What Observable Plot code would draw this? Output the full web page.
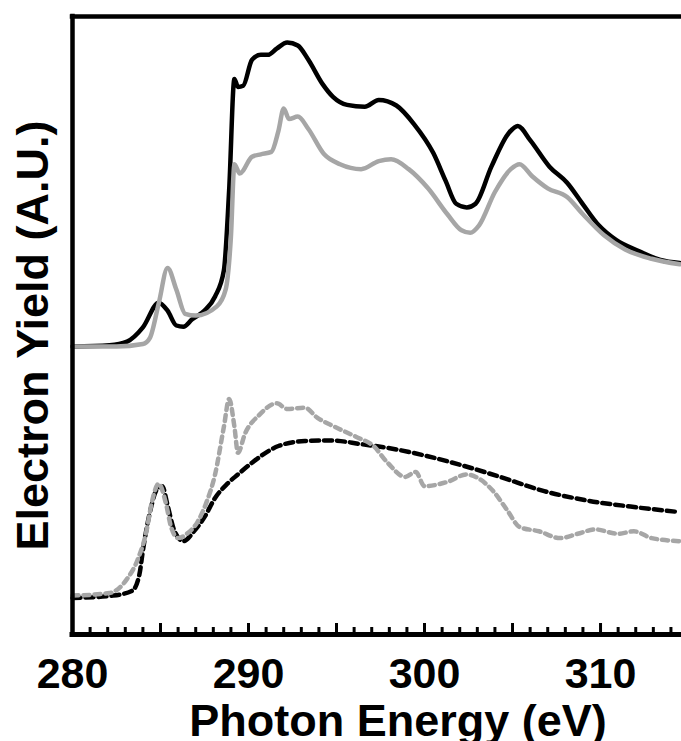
<!DOCTYPE html>
<html>
<head>
<meta charset="utf-8">
<script src="https://cdn.jsdelivr.net/npm/d3@7"></script>
<script src="https://cdn.jsdelivr.net/npm/@observablehq/plot@0.6"></script>
<style>
  html, body { margin: 0; padding: 0; background: #fff; overflow: hidden; }
</style>
</head>
<body>
<div id="chart"></div>
<script>
// Photon energy (eV) and electron yield (arbitrary units)
const blackSolidE = [280.0, 282.1, 283.1, 284.0, 284.9, 285.4, 285.9, 286.3, 286.8, 287.5, 288.1, 288.6, 288.9, 289.2, 289.4, 289.7, 290.2, 290.7, 291.1, 291.6, 292.2, 292.8, 293.4, 294.2, 294.8, 295.6, 296.6, 297.4, 298.4, 299.4, 300.5, 301.2, 301.8, 302.4, 302.9, 303.8, 304.8, 305.3, 306.0, 307.1, 308.1, 309.0, 309.9, 310.9, 312.2, 313.4, 314.5];
const blackSolidY = [46.6, 46.8, 47.4, 49.7, 53.7, 52.4, 50.0, 49.8, 51.0, 52.4, 54.7, 58.9, 71.9, 89.9, 88.6, 88.8, 93.0, 93.8, 93.8, 94.8, 95.8, 95.3, 93.0, 89.1, 87.0, 85.7, 85.4, 86.5, 85.6, 82.6, 77.9, 73.4, 69.7, 69.1, 69.7, 75.7, 81.2, 82.3, 80.0, 75.7, 73.1, 69.6, 66.2, 63.8, 62.0, 60.6, 60.1];

const greySolidE = [280.0, 282.5, 284.0, 284.4, 284.9, 285.4, 285.9, 286.4, 287.0, 288.2, 288.7, 289.0, 289.2, 289.5, 290.2, 290.7, 291.3, 291.7, 292.0, 292.3, 292.8, 293.4, 294.3, 295.2, 296.4, 297.4, 298.1, 299.1, 300.2, 301.3, 302.1, 302.6, 303.1, 304.0, 304.9, 305.4, 306.1, 307.0, 308.1, 309.0, 310.2, 311.4, 312.9, 314.5];
const greySolidY = [46.6, 46.6, 47.0, 48.0, 53.6, 59.3, 55.8, 51.9, 51.6, 53.1, 55.8, 64.3, 76.1, 74.6, 77.3, 77.7, 78.1, 81.5, 85.1, 83.4, 83.8, 81.8, 77.7, 76.1, 75.3, 76.6, 76.9, 75.3, 72.2, 68.0, 65.4, 65.0, 66.2, 71.6, 75.3, 76.1, 74.2, 72.2, 70.8, 68.0, 64.6, 62.3, 60.8, 59.9];

const blackDashE = [280.0, 282.3, 283.4, 283.8, 284.0, 284.4, 284.8, 285.1, 285.4, 285.8, 286.3, 286.9, 287.5, 288.1, 288.8, 289.4, 290.2, 291.7, 293.2, 294.7, 296.4, 298.1, 300.1, 302.1, 304.3, 306.8, 309.2, 311.7, 314.5];
const blackDashY = [5.9, 6.3, 7.1, 9.7, 13.6, 19.8, 23.5, 24.0, 20.9, 16.7, 15.1, 16.7, 19.0, 22.1, 24.4, 25.9, 27.8, 30.5, 31.3, 31.4, 30.8, 30.1, 28.9, 27.4, 25.5, 23.2, 21.7, 20.7, 19.8];

const greyDashE = [280.0, 282.1, 283.1, 283.7, 284.2, 284.5, 284.9, 285.3, 285.6, 286.0, 286.5, 287.1, 287.6, 288.1, 288.6, 288.9, 289.2, 289.4, 289.8, 290.6, 291.6, 292.2, 293.2, 293.9, 294.9, 296.1, 297.1, 297.9, 298.9, 299.5, 300.0, 301.3, 302.4, 303.1, 303.9, 304.7, 305.4, 306.5, 307.7, 308.7, 309.7, 311.0, 311.9, 312.9, 314.5];
const greyDashY = [6.3, 6.7, 9.0, 12.1, 16.7, 21.3, 24.4, 21.3, 17.4, 15.6, 16.3, 18.2, 21.3, 25.9, 33.6, 38.1, 33.6, 29.4, 32.5, 35.5, 37.4, 36.5, 36.7, 35.1, 33.6, 32.0, 30.5, 27.8, 25.5, 26.3, 24.0, 24.7, 25.9, 25.2, 23.2, 20.1, 17.4, 16.7, 15.6, 16.3, 17.0, 16.3, 16.7, 15.6, 15.1];

const xDomain = [280, 314.6];
const yDomain = [0, 100];
const labelTicks = [280, 290, 300, 310];
const majorTicks = [285, 290, 295, 300, 305, 310];
const minorTicks = [281, 282, 283, 284, 286, 287, 288, 289, 291, 292, 293, 294, 296, 297, 298, 299, 301, 302, 303, 304, 306, 307, 308, 309, 311, 312, 313, 314];
const xTitle = "Photon Energy (eV)";
const yTitle = "Electron Yield (A.U.)";

const toRows = (E, Y) => E.map((e, i) => ({e, v: Y[i]}));

const chart = Plot.plot({
  width: 681,
  height: 741,
  marginLeft: 72,
  marginRight: 0,
  marginTop: 16,
  marginBottom: 107,
  style: {fontFamily: "'Liberation Sans', Arial, Helvetica, sans-serif", fontWeight: "bold", background: "#fff", overflow: "visible"},
  x: {domain: xDomain},
  y: {domain: yDomain, axis: null},
  marks: [
    Plot.line(toRows(blackDashE, blackDashY), {x: "e", y: "v", stroke: "#000", strokeWidth: 4.5, strokeDasharray: "8,5", curve: "monotone-x"}),
    Plot.line(toRows(greyDashE, greyDashY), {x: "e", y: "v", stroke: "#a6a6a6", strokeWidth: 4.5, strokeDasharray: "6,5", curve: "monotone-x"}),
    Plot.line(toRows(blackSolidE, blackSolidY), {x: "e", y: "v", stroke: "#000", strokeWidth: 4.5, curve: "monotone-x"}),
    Plot.line(toRows(greySolidE, greySolidY), {x: "e", y: "v", stroke: "#a6a6a6", strokeWidth: 4.5, curve: "monotone-x"}),
    Plot.ruleX(minorTicks, {x: d => d, y1: 0, y2: 0, insetBottom: 7, stroke: "#000", strokeWidth: 3}),
    Plot.ruleX(majorTicks, {x: d => d, y1: 0, y2: 0, insetBottom: 11, stroke: "#000", strokeWidth: 3}),
    Plot.ruleY([yDomain[0]], {stroke: "#000", strokeWidth: 5, strokeLinecap: "square"}),
    Plot.ruleY([yDomain[1]], {stroke: "#000", strokeWidth: 4.5, strokeLinecap: "square"}),
    Plot.ruleX([xDomain[0]], {y1: yDomain[0], y2: yDomain[1], stroke: "#000", strokeWidth: 4.5, strokeLinecap: "square"}),
    Plot.axisX(labelTicks, {tickSize: 0, tickPadding: 23, fontSize: 43, fontWeight: "bold", label: null, tickFormat: d => String(d)}),
    Plot.text([xTitle], {frameAnchor: "bottom", lineAnchor: "bottom", textAnchor: "middle", dx: 21, dy: 101, fontSize: 45, fontWeight: "bold", fill: "#000"}),
    Plot.text([yTitle], {frameAnchor: "left", lineAnchor: "bottom", textAnchor: "middle", rotate: -90, dx: -25, dy: 10, fontSize: 45, fontWeight: "bold", fill: "#000"})
  ]
});

document.getElementById("chart").appendChild(chart);
</script>
</body>
</html>
